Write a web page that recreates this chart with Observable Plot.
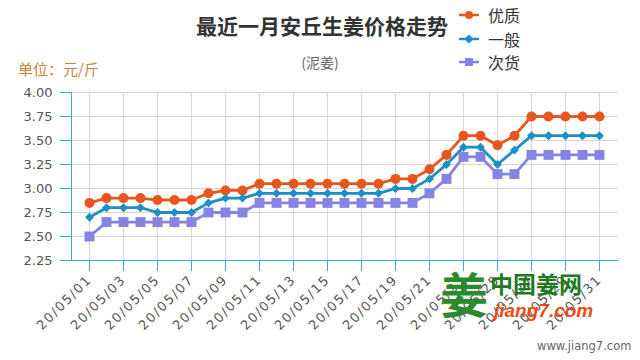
<!DOCTYPE html>
<html><head><meta charset="utf-8">
<script src="https://cdn.jsdelivr.net/npm/d3@7"></script>
<script src="https://cdn.jsdelivr.net/npm/@observablehq/plot@0.6"></script>
<style>
body{margin:0;background:#fff;}
#wrap{position:relative;width:640px;height:360px;overflow:hidden;font-family:"Noto Sans CJK SC",sans-serif;background:#fff;}
#header{position:relative;width:640px;height:80px;}
#chart{position:relative;width:640px;height:280px;}
.abs{position:absolute;white-space:nowrap;line-height:1;}
#chart svg g[aria-label="x-axis tick label"] text{letter-spacing:1.6px;}
.lg{position:absolute;left:458px;height:16px;display:flex;align-items:center;}
.lg span{margin-left:8px;font-size:16px;color:#333;line-height:1;}
</style></head>
<body><div id="wrap">
<div id="header"></div>
<div id="chart"></div>
<div id="wm"></div>
</div>
<script>
const title = "最近一月安丘生姜价格走势";
const subtitle = "(泥姜)";
const unitLabel = "单位：元/斤";
const seriesNames = ["优质", "一般", "次货"];
const seriesColors = ["#e8561e", "#1a90c4", "#8783e2"];
const seriesSymbols = ["circle", "diamond2", "square"];

const dates = ["20/05/01","20/05/02","20/05/03","20/05/04","20/05/05","20/05/06","20/05/07","20/05/08",
  "20/05/09","20/05/10","20/05/11","20/05/12","20/05/13","20/05/14","20/05/15","20/05/16",
  "20/05/17","20/05/18","20/05/19","20/05/20","20/05/21","20/05/22","20/05/23","20/05/24",
  "20/05/25","20/05/26","20/05/27","20/05/28","20/05/29","20/05/30","20/05/31"];
const premium  = [2.85,2.90,2.90,2.90,2.88,2.88,2.88,2.95,2.98,2.98,3.05,3.05,3.05,3.05,3.05,3.05,
  3.05,3.05,3.10,3.10,3.20,3.35,3.55,3.55,3.45,3.55,3.75,3.75,3.75,3.75,3.75];
const general  = [2.70,2.80,2.80,2.80,2.75,2.75,2.75,2.85,2.90,2.90,2.95,2.95,2.95,2.95,2.95,2.95,
  2.95,2.95,3.00,3.00,3.10,3.25,3.43,3.43,3.25,3.40,3.55,3.55,3.55,3.55,3.55];
const inferior = [2.50,2.65,2.65,2.65,2.65,2.65,2.65,2.75,2.75,2.75,2.85,2.85,2.85,2.85,2.85,2.85,
  2.85,2.85,2.85,2.85,2.95,3.10,3.33,3.33,3.15,3.15,3.35,3.35,3.35,3.35,3.35];

const yTicks = [2.25, 2.50, 2.75, 3.00, 3.25, 3.50, 3.75, 4.00];
const xTicks = ["20/05/01","20/05/03","20/05/05","20/05/07","20/05/09","20/05/11","20/05/13","20/05/15",
  "20/05/17","20/05/19","20/05/21","20/05/23","20/05/25","20/05/27","20/05/29","20/05/31"];

const teal = "#3aa6da";

// header
const header = document.getElementById("header");
header.innerHTML = `
  <div class="abs" style="left:2px;width:640px;text-align:center;top:15px;font-size:21px;font-weight:bold;color:#333;">${title}</div>
  <div class="abs" style="left:0;width:640px;text-align:center;top:55px;font-size:14px;color:#666;">${subtitle}</div>
  <div class="abs" style="left:18px;top:61px;font-size:15px;color:#c5843f;">${unitLabel}</div>`;
const legendTops = [7, 31, 54];
seriesNames.forEach((name, i) => {
  const c = seriesColors[i];
  let marker;
  if (i === 0) marker = `<circle cx="11" cy="8" r="4" fill="${c}"/>`;
  else if (i === 1) marker = `<path d="M11,3.5L15.5,8L11,12.5L6.5,8Z" fill="${c}"/>`;
  else marker = `<rect x="7" y="4" width="8" height="8" fill="${c}"/>`;
  header.insertAdjacentHTML("beforeend",
    `<div class="lg" style="top:${legendTops[i]}px"><svg width="22" height="16"><line x1="1" y1="8" x2="21" y2="8" stroke="${c}" stroke-width="2.5"/>${marker}</svg><span>${name}</span></div>`);
});

// chart
const rows = dates.map((d, i) => ({date: d, v0: premium[i], v1: general[i], v2: inferior[i]}));
const seriesMarks = [];
const radii = [5, 4, 5.6];
seriesNames.forEach((name, i) => {
  seriesMarks.push(Plot.line(rows, {x: "date", y: "v" + i, stroke: seriesColors[i], strokeWidth: 2.8}));
  seriesMarks.push(Plot.dot(rows, {x: "date", y: "v" + i, fill: seriesColors[i], r: radii[i], symbol: seriesSymbols[i]}));
});

const chart = Plot.plot({
  width: 640, height: 280,
  marginTop: 12, marginBottom: 100, marginLeft: 71, marginRight: 22,
  style: {fontFamily: "DejaVu Sans", fontSize: "13px", background: "transparent", overflow: "visible"},
  x: {type: "point", domain: dates, padding: 0, insetLeft: 9, insetRight: 10, label: null},
  y: {domain: [2.25, 4.0], label: null},
  marks: [
    Plot.gridY(yTicks, {stroke: "#d6d6d6", strokeOpacity: 1}),
    Plot.gridX(xTicks, {stroke: "#d6d6d6", strokeOpacity: 1}),
    Plot.axisY(yTicks, {tickSize: 11, tickPadding: 8, stroke: teal, fill: "#555", tickFormat: d3.format(".2f"), fontSize: 13}),
    Plot.axisX(xTicks, {tickSize: 11, tickPadding: 6, tickRotate: -45, stroke: teal, fill: "#555", fontSize: 13}),
    Plot.frame({anchor: "left", stroke: teal}),
    Plot.ruleY([2.25], {stroke: teal, insetLeft: -11}),
    ...seriesMarks
  ]
});
document.getElementById("chart").appendChild(chart);

// watermark
document.getElementById("wm").innerHTML = `
  <div class="abs" style="left:440px;top:268px;font-size:48px;font-weight:bold;color:#2b8a2b;">姜</div>
  <div class="abs" style="left:490px;top:272px;font-size:23px;font-weight:bold;color:#1f7a1f;">中国姜网</div>
  <div class="abs" style="left:494px;top:301px;font-family:'Liberation Sans',sans-serif;font-size:19px;font-weight:bold;font-style:italic;color:#ee4a16;">jiang7.com</div>
  <div class="abs" style="left:537px;top:341px;font-family:'DejaVu Sans',sans-serif;font-size:11.5px;color:#666;">www.jiang7.com</div>`;
</script>
</body></html>
